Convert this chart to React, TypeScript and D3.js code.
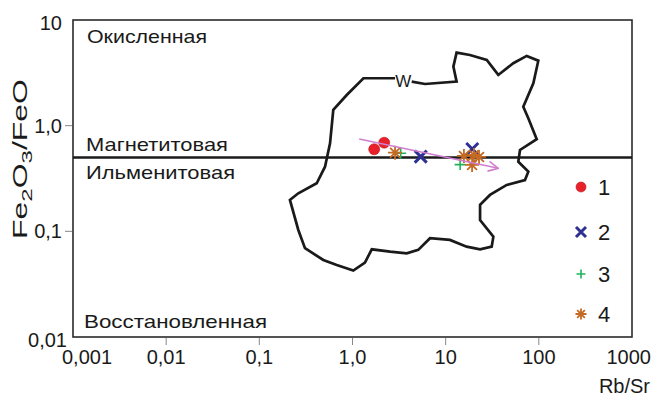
import React from "react";
import * as d3 from "d3";

// ---- data ----
const xTickValues = [0.001, 0.01, 0.1, 1, 10, 100, 1000];
const xTickLabels = ["0,001", "0,01", "0,1", "1,0", "10", "100", "1000"];
const yTickValues = [10, 1, 0.1, 0.01];
const yTickLabels = ["10", "1,0", "0,1", "0,01"];

// W field outline (Rb/Sr, Fe2O3/FeO)
const polyRbSr = [4.32, 6.0, 13.1, 12.1, 13.1, 18.2, 27.6, 36.7, 53.2, 74.1, 98.7, 87.3, 68.1, 77.1, 94.9, 62.8, 60.2, 77.1, 71.0, 45.2, 29.9, 23.4, 23.4, 32.5, 31.2, 23.4, 16.8, 11.1, 6.79, 5.08, 3.82, 2.53, 1.61, 1.36, 1.02, 0.677, 0.486, 0.309, 0.262, 0.213, 0.262, 0.413, 0.507, 0.574, 0.622, 0.867, 1.31, 2.86];
const polyFe = [2.61, 2.48, 2.61, 3.62, 4.91, 4.67, 4.19, 3.02, 3.9, 4.57, 4.12, 2.52, 1.51, 1.175, 0.744, 0.589, 0.456, 0.367, 0.306, 0.275, 0.221, 0.178, 0.128, 0.089, 0.0716, 0.0676, 0.0716, 0.0829, 0.086, 0.0667, 0.062, 0.0642, 0.0676, 0.0505, 0.0425, 0.0481, 0.0536, 0.0692, 0.103, 0.198, 0.229, 0.285, 0.409, 0.681, 1.41, 1.95, 2.81, 2.81];
const fieldLabel = "W";
const fieldLabelPos = [3.5, 2.62];

// boundary Magnetite / Ilmenite series
const boundaryFe = 0.5;

// series
const s1RbSr = [1.71, 2.19];
const s1Fe = [0.598, 0.69];
const s2RbSr = [5.4, 19.3];
const s2Fe = [0.509, 0.602];
const s3RbSr = [3.29, 14.3];
const s3Fe = [0.548, 0.428];
const s4RbSr = [2.86, 15.7, 20.1, 22.8, 19.2];
const s4Fe = [0.555, 0.517, 0.528, 0.506, 0.425];

// trend arrow
const arrowRbSr = [1.18, 36.7];
const arrowFe = [0.748, 0.395];

const regionLabels = ["Окисленная", "Магнетитовая", "Ильменитовая", "Восстановленная"];
const legendLabels = ["1", "2", "3", "4"];

const FONT = "'Liberation Sans', Arial, Helvetica, sans-serif";
const TEXT = "#1a1a1a";

function Marker({ kind, x, y, legend }: { kind: number; x: number; y: number; legend?: boolean }) {
  if (kind === 0) {
    return <circle cx={x} cy={y} r={legend ? 5 : 5.5} fill="#e8202a" stroke="#c0141c" strokeWidth={0.6} />;
  }
  if (kind === 1) {
    const a = legend ? 5 : 6;
    return (
      <path d={`M${x - a},${y - a}L${x + a},${y + a}M${x - a},${y + a}L${x + a},${y - a}`} stroke="#2e3192" strokeWidth={3} />
    );
  }
  if (kind === 2) {
    const a = legend ? 4.5 : 5.5;
    return <path d={`M${x - a},${y}L${x + a},${y}M${x},${y - a}L${x},${y + a}`} stroke="#22b35a" strokeWidth={1.6} />;
  }
  const a = legend ? 5.5 : 7;
  const b = a * 0.7;
  return (
    <path
      d={`M${x - a},${y}L${x + a},${y}M${x},${y - a}L${x},${y + a}M${x - b},${y - b}L${x + b},${y + b}M${x - b},${y + b}L${x + b},${y - b}`}
      stroke="#c46a24"
      strokeWidth={1.8}
    />
  );
}

export default function App() {
  const W = 652;
  const H = 406;
  const left = 73, right = 632, top = 20, bottom = 337;
  const x = d3.scaleLog().domain([0.001, 1000]).range([left, right]);
  const y = d3.scaleLog().domain([0.01, 10]).range([bottom, top]);

  const polyPts: [number, number][] = polyRbSr.map((v, i) => [x(v), y(polyFe[i])]);
  const polyPath = d3.line()(polyPts) as string;

  const series = [
    { xs: s1RbSr, ys: s1Fe },
    { xs: s2RbSr, ys: s2Fe },
    { xs: s3RbSr, ys: s3Fe },
    { xs: s4RbSr, ys: s4Fe },
  ];

  const legendX = 581;
  const legendY = [187, 232, 274, 314];
  const regionPos = [
    { x: 87, y: 43, len: 120 },
    { x: 86, y: 151, len: 142 },
    { x: 86, y: 179, len: 149 },
    { x: 84, y: 328, len: 183 },
  ];

  return (
    <svg width={W} height={H} style={{ position: "absolute", left: 0, top: 0, background: "#fff" }} fontFamily={FONT}>
      <defs>
        <marker id="arrowhead" viewBox="0 0 12 12" refX="11" refY="6" markerWidth="12" markerHeight="12" markerUnits="userSpaceOnUse" orient="auto">
          <path d="M1,1L11,6L1,11" fill="none" stroke="#cf7fcf" strokeWidth={1.6} />
        </marker>
      </defs>

      {/* frame */}
      <rect x={left} y={top} width={right - left} height={bottom - top} fill="#fff" stroke="#2a2a2a" strokeWidth={1.6} />

      {/* x ticks */}
      {xTickValues.map((v, i) => {
        const px = x(v);
        const first = i === 0;
        const last = i === xTickValues.length - 1;
        return (
          <g key={"xt" + i}>
            {!first && !last && <line x1={px} x2={px} y1={bottom + 1} y2={bottom + 8} stroke="#888" strokeWidth={1} />}
            <text
              x={first ? px - 11 : last ? px + 19 : px}
              y={364}
              fontSize={20}
              fill={TEXT}
              textAnchor={first ? "start" : last ? "end" : "middle"}
            >
              {xTickLabels[i]}
            </text>
          </g>
        );
      })}
      <text x={650} y={393} fontSize={20} fill={TEXT} textAnchor="end">Rb/Sr</text>

      {/* y ticks */}
      {yTickValues.map((v, i) => {
        const py = y(v);
        const first = i === 0;
        const last = i === yTickValues.length - 1;
        return (
          <g key={"yt" + i}>
            {!first && !last && <line x1={left - 8} x2={left - 1} y1={py} y2={py} stroke="#888" strokeWidth={1} />}
            <text
              x={last ? 67 : 62}
              y={last ? py + 10 : first ? py + 10 : py + 7}
              fontSize={20}
              fill={TEXT}
              textAnchor="end"
            >
              {yTickLabels[i]}
            </text>
          </g>
        );
      })}

      {/* y title */}
      <text
        transform="translate(27,159) rotate(-90)"
        fontSize={20}
        fill={TEXT}
        textAnchor="middle"
        textLength={160}
        lengthAdjust="spacingAndGlyphs"
      >
        Fe<tspan fontSize={15} dy={5}>2</tspan>
        <tspan dy={-5}>O</tspan>
        <tspan fontSize={15} dy={5}>3</tspan>
        <tspan dy={-5}>/FeO</tspan>
      </text>

      {/* region labels */}
      {regionLabels.map((t, i) => (
        <text
          key={"rl" + i}
          x={regionPos[i].x}
          y={regionPos[i].y}
          fontSize={19}
          fill={TEXT}
          textLength={regionPos[i].len}
          lengthAdjust="spacingAndGlyphs"
        >
          {t}
        </text>
      ))}

      {/* boundary */}
      <line x1={left} x2={right} y1={y(boundaryFe)} y2={y(boundaryFe)} stroke="#1a1a1a" strokeWidth={2.4} />

      {/* W field */}
      <path d={polyPath} fill="none" stroke="#1a1a1a" strokeWidth={2.7} strokeLinejoin="miter" />
      <text x={x(fieldLabelPos[0])} y={y(fieldLabelPos[1]) + 6} fontSize={17} fill={TEXT} textAnchor="middle">{fieldLabel}</text>

      {/* data */}
      {series.map((s, k) =>
        s.xs.map((v, i) => <Marker key={`m${k}-${i}`} kind={k} x={x(v)} y={y(s.ys[i])} />)
      )}

      {/* trend arrow */}
      <line
        x1={x(arrowRbSr[0])}
        y1={y(arrowFe[0])}
        x2={x(arrowRbSr[1])}
        y2={y(arrowFe[1])}
        stroke="#cf7fcf"
        strokeWidth={1.6}
        markerEnd="url(#arrowhead)"
      />

      {/* legend */}
      {legendLabels.map((l, i) => (
        <g key={"lg" + i}>
          <Marker kind={i} x={legendX} y={legendY[i]} legend />
          <text x={598} y={legendY[i] + 8} fontSize={22} fill={TEXT}>{l}</text>
        </g>
      ))}
    </svg>
  );
}
